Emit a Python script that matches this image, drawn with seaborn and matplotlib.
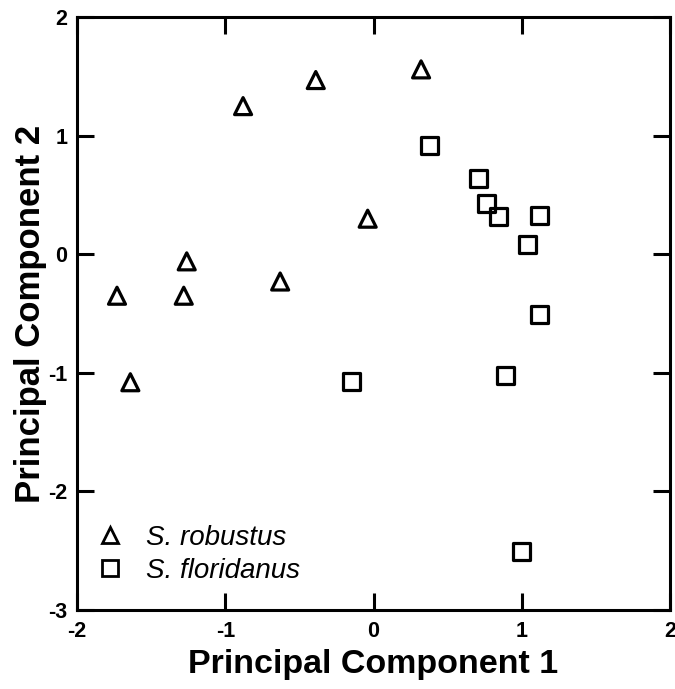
import matplotlib
matplotlib.use("Agg")
import matplotlib.pyplot as plt
from matplotlib.lines import Line2D
import seaborn as sns
import pandas as pd

robustus_pc1 = [-1.73, -1.64, -1.26, -1.28, -0.88, -0.63, -0.39, -0.04, 0.32]
robustus_pc2 = [-0.35, -1.08, -0.06, -0.35, 1.25, -0.23, 1.47, 0.30, 1.56]
floridanus_pc1 = [0.38, 0.71, 0.76, 0.84, 1.12, 1.04, 1.12, 0.89, -0.15, 1.00]
floridanus_pc2 = [0.92, 0.64, 0.43, 0.32, 0.33, 0.08, -0.51, -1.02, -1.07, -2.51]
species = ["S. robustus", "S. floridanus"]
xticks = [-2, -1, 0, 1, 2]
yticks = [-3, -2, -1, 0, 1, 2]

df = pd.DataFrame({
    "PC1": robustus_pc1 + floridanus_pc1,
    "PC2": robustus_pc2 + floridanus_pc2,
    "Species": [species[0]] * len(robustus_pc1) + [species[1]] * len(floridanus_pc1),
})

sns.set_style("white")
plt.rcParams["font.family"] = ["Liberation Sans", "DejaVu Sans"]
plt.rcParams["axes.unicode_minus"] = False
plt.rcParams["text.color"] = "black"
plt.rcParams["axes.labelcolor"] = "black"
plt.rcParams["xtick.color"] = "black"
plt.rcParams["ytick.color"] = "black"

fig = plt.figure(figsize=(6.75, 6.89), dpi=100)
ax = fig.add_axes([0.114, 0.115, 0.879, 0.86])

markers = {species[0]: "^", species[1]: "s"}
sns.scatterplot(data=df, x="PC1", y="PC2", style="Species", markers=markers,
                s=150, facecolor="none", edgecolor="black", linewidth=2.3,
                legend=False, ax=ax)

ax.set_xlim(-2, 2)
ax.set_ylim(-3, 2)
ax.set_xticks(xticks)
ax.set_yticks(yticks)
ax.tick_params(direction="in", length=12, width=2.2, top=True, right=True,
               bottom=True, left=True, labelsize=15.5)
ax.tick_params(axis="x", pad=8)
ax.tick_params(axis="y", pad=7)
for lab in ax.get_xticklabels() + ax.get_yticklabels():
    lab.set_fontweight("bold")
for sp in ax.spines.values():
    sp.set_linewidth(2.2)
    sp.set_color("black")

ax.set_xlabel("Principal Component 1", fontsize=24.5, fontweight="bold", labelpad=5)
ax.set_ylabel("Principal Component 2", fontsize=25, fontweight="bold", labelpad=1)

handles = [Line2D([], [], linestyle="none", marker=markers[sp], markersize=11,
                  markerfacecolor="none", markeredgecolor="black",
                  markeredgewidth=2.0, label=sp) for sp in species]
ax.legend(handles=handles, loc="lower left", bbox_to_anchor=(0.0, 0.025),
          borderaxespad=0, frameon=False, handlelength=1.6, handletextpad=0.5,
          labelspacing=0.25, prop={"style": "italic", "size": 20})

fig.savefig("out.png", dpi=100)
